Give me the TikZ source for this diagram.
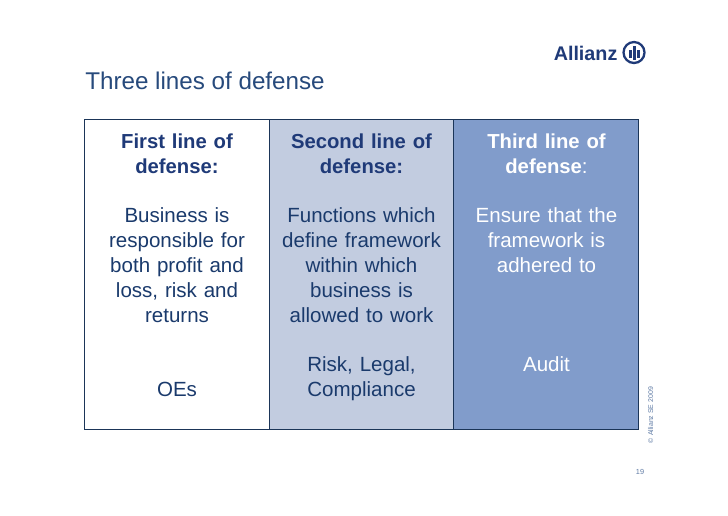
\documentclass[tikz,border=0pt]{standalone}
\usepackage{fontspec}
\setmainfont{Liberation Sans}
\definecolor{navy}{HTML}{1F3A78}
\definecolor{edge}{HTML}{1B3558}
\definecolor{midfill}{HTML}{C2CCE0}
\definecolor{darkfill}{HTML}{819CCB}
\definecolor{bodytext}{HTML}{1A3A6C}
\definecolor{titletext}{HTML}{274A7C}
\definecolor{small}{HTML}{5F7BA5}
\newcommand{\headtext}[1]{{\fontsize{15.2}{18.6}\selectfont\textbf{#1}}}
\tikzset{
  x=0.75pt,y=-0.75pt,
  col/.style={anchor=north,align=center,inner sep=0pt,text width=182*0.75pt,font=\fontsize{15.4}{18.6}\selectfont},
  panel/.style={draw=edge,line width=0.75pt},
}
\begin{document}
\begin{tikzpicture}
\useasboundingbox (0,0) rectangle (728,515);
\fill[white] (0,0) rectangle (728,515);
\node[anchor=base west,inner sep=0pt,text=titletext,font=\fontsize{18.15}{22}\selectfont] (title) at (85,89) {Three lines of defense};
\draw[panel,fill=white] (84,119) rectangle (269,429);
\draw[panel,fill=midfill] (269,119) rectangle (453,429);
\draw[panel,fill=darkfill] (453,119) rectangle (638,429);
\node[col,text=bodytext] (c1) at (177,133.5) {\textcolor{navy}{\headtext{First line of}\\\headtext{defense:}}\\[\baselineskip]Business is\\responsible for\\both profit and\\loss, risk and\\returns\\[2\baselineskip]OEs};
\node[col,text=bodytext] (c2) at (361.5,133.5) {\textcolor{navy}{\headtext{Second line of}\\\headtext{defense:}}\\[\baselineskip]Functions which\\define framework\\within which\\business is\\allowed to work\\[\baselineskip]Risk, Legal,\\Compliance};
\node[col,text=white] (c3) at (546.5,133.5) {\headtext{Third line of}\\\headtext{defense}:\\[\baselineskip]Ensure that the\\framework is\\adhered to\\[3\baselineskip]Audit};
\node[anchor=base west,inner sep=0pt,text=navy,font=\fontsize{14.8}{16}\bfseries\selectfont] (logo) at (553.5,60.5) {Allianz};
\node[circle,draw=navy,line width=1.7pt,minimum size=21*0.75pt,inner sep=0pt] (mark) at (634,52.5) {};
\foreach \dx/\t/\h in {-4/-3/5,0/-7/7,4/-3/5}{\fill[navy] (634+\dx-1.5,52.5+\t) rectangle (634+\dx+1.5,52.5+\h);}
\node[anchor=base,rotate=90,inner sep=0pt,text=small,font=\fontsize{5.2}{6}\selectfont] (copy) at (653,415) {© Allianz SE 2009};
\node[anchor=base,inner sep=0pt,text=small,font=\fontsize{5.5}{6}\selectfont] (page) at (640,474) {19};
\end{tikzpicture}
\end{document}
